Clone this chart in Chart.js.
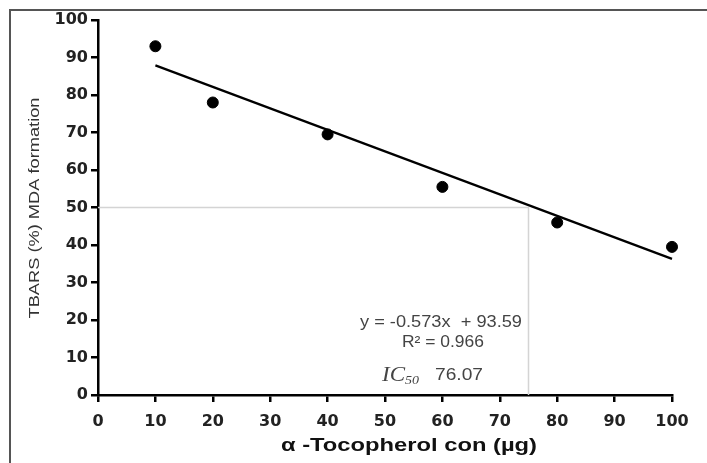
<!DOCTYPE html>
<html>
<head>
<meta charset="utf-8">
<script src="https://cdn.jsdelivr.net/npm/chart.js@4.4.0/dist/chart.umd.min.js"></script>
<style>
  html, body { margin: 0; padding: 0; background: #fff; }
  #wrap { width: 707px; height: 463px; }
</style>
</head>
<body>
<div id="wrap"><canvas id="chart" width="707" height="463"></canvas></div>
<script>
// measured values
const concentrations = [10, 20, 40, 60, 80, 100];
const mdaFormation = [93, 78, 69.5, 55.5, 46, 39.5];
// fitted line endpoints as drawn
const fitX = [10, 100];
const fitY = [87.9, 36.3];
// IC50 guide
const guideX = [0, 75, 75];
const guideY = [50, 50, 0];
const tickValues = [0, 10, 20, 30, 40, 50, 60, 70, 80, 90, 100];

const toPoints = (xs, ys) => xs.map((x, i) => ({ x: x, y: ys[i] }));

// draw text squeezed/stretched to a given width
function fitText(ctx, text, x, y, width, align) {
  const w = ctx.measureText(text).width;
  ctx.save();
  ctx.translate(x, y);
  ctx.scale(width / w, 1);
  ctx.textAlign = align || "center";
  ctx.fillText(text, 0, 0);
  ctx.restore();
}

const overlay = {
  id: "overlay",
  afterDraw(chart) {
    const ctx = chart.ctx;
    const ys = chart.scales.y;
    ctx.save();
    // outer frame, top and left only
    ctx.strokeStyle = "#555";
    ctx.lineWidth = 2;
    ctx.beginPath();
    ctx.moveTo(707, 10);
    ctx.lineTo(10, 10);
    ctx.lineTo(10, 463);
    ctx.stroke();

    ctx.textBaseline = "middle";
    // y title
    ctx.fillStyle = "#333";
    ctx.font = "15px Arial";
    ctx.save();
    ctx.translate(35, 208);
    ctx.rotate(-Math.PI / 2);
    fitText(ctx, "TBARS (%) MDA formation", 0, 0, 221);
    ctx.restore();

    // x title
    ctx.fillStyle = "#111";
    ctx.font = "bold 18px Arial";
    fitText(ctx, "\u03B1 -Tocopherol con (\u00B5g)", 409, 446, 256);

    // regression text
    ctx.fillStyle = "#444";
    ctx.font = "16px Arial";
    fitText(ctx, "y = -0.573x  + 93.59", 441, ys.getPixelForValue(19.3), 162);
    fitText(ctx, "R\u00B2 = 0.966", 443, ys.getPixelForValue(14.1), 82);

    // IC50 label
    const ly = ys.getPixelForValue(5.3);
    ctx.textAlign = "left";
    ctx.font = "italic 22px 'Liberation Serif', 'Times New Roman', serif";
    fitText(ctx, "IC", 382, ly, 23, "left");
    ctx.font = "italic 13px 'Liberation Serif', 'Times New Roman', serif";
    fitText(ctx, "50", 405, ly + 5, 14, "left");
    ctx.font = "17px Arial";
    fitText(ctx, "76.07", 435, ly, 48, "left");
    ctx.restore();
  }
};

const tickFont = { family: "'DejaVu Sans'", size: 16, weight: "bold" };

new Chart(document.getElementById("chart"), {
  type: "scatter",
  data: {
    datasets: [
      {
        label: "IC50 guide",
        data: toPoints(guideX, guideY),
        showLine: true,
        borderColor: "#d4d4d4",
        borderWidth: 1.5,
        pointRadius: 0,
        order: 3
      },
      {
        label: "Linear fit",
        data: toPoints(fitX, fitY),
        showLine: true,
        borderColor: "#000",
        borderWidth: 2.2,
        pointRadius: 0,
        clip: false,
        order: 2
      },
      {
        label: "TBARS",
        data: toPoints(concentrations, mdaFormation),
        backgroundColor: "#000",
        borderColor: "#000",
        pointRadius: 5.5,
        clip: false,
        order: 1
      }
    ]
  },
  options: {
    responsive: false,
    animation: false,
    layout: { padding: { left: 0, top: 20, right: 35, bottom: 0 } },
    plugins: {
      legend: { display: false },
      tooltip: { enabled: false }
    },
    scales: {
      x: {
        type: "linear",
        min: 0,
        max: 100,
        afterBuildTicks: (scale) => { scale.ticks = tickValues.map(v => ({ value: v })); },
        afterFit: (scale) => { scale.height = 68; },
        border: { color: "#000", width: 2.5 },
        grid: { drawOnChartArea: false, tickLength: 7, tickColor: "#000", lineWidth: 2.5 },
        ticks: { color: "#222", font: tickFont, padding: 10, maxRotation: 0 }
      },
      y: {
        type: "linear",
        min: 0,
        max: 100,
        afterBuildTicks: (scale) => { scale.ticks = tickValues.map(v => ({ value: v })); },
        afterFit: (scale) => { scale.width = 98; },
        border: { color: "#000", width: 2.5 },
        grid: { drawOnChartArea: false, tickLength: 7, tickColor: "#000", lineWidth: 2.5 },
        ticks: { color: "#222", font: tickFont, padding: 3 }
      }
    }
  },
  plugins: [overlay]
});
</script>
</body>
</html>
